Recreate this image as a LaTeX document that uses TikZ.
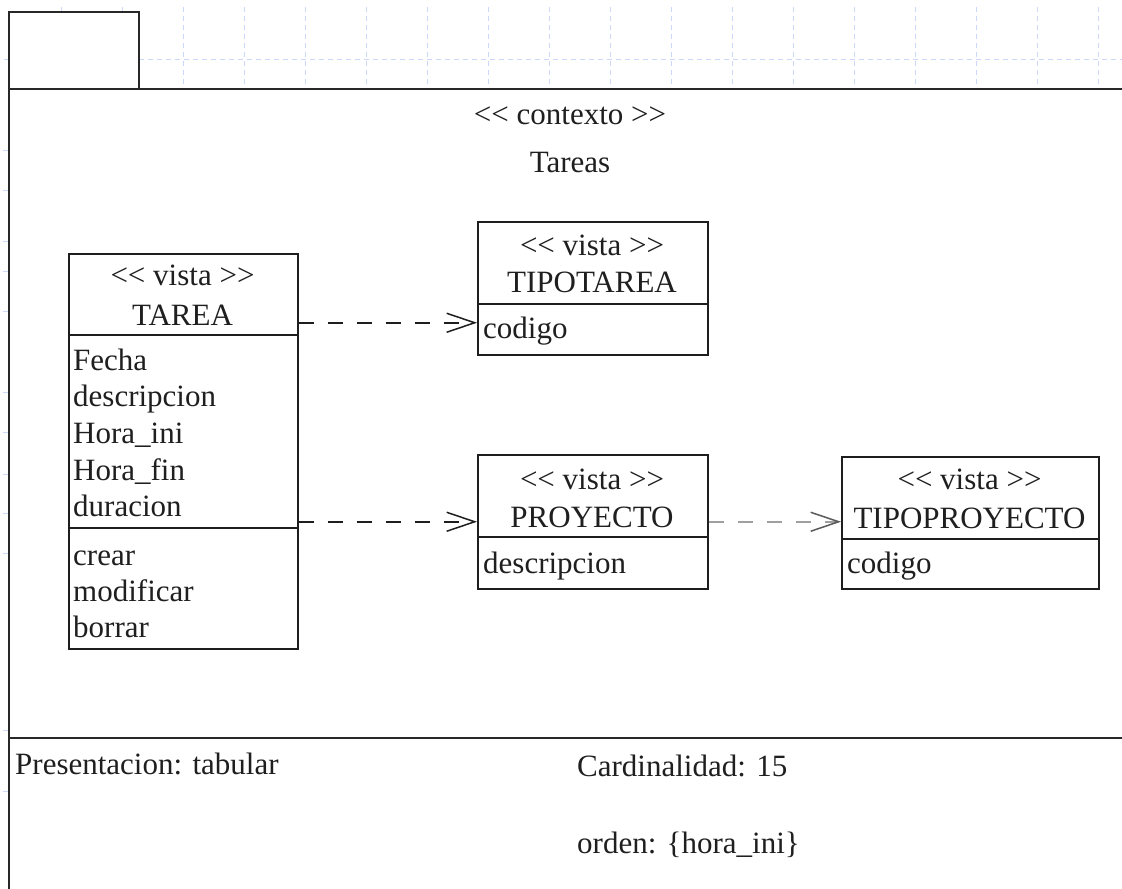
\documentclass[tikz,border=0pt]{standalone}
\usepackage{fontspec}
\newfontfamily\dfont{Liberation Serif}
\usetikzlibrary{arrows.meta}
\definecolor{gridblue}{RGB}{205,215,250}
\definecolor{framegray}{RGB}{40,40,40}
\definecolor{boxgray}{RGB}{30,30,30}
\definecolor{softgray}{RGB}{160,160,160}
\definecolor{tipgray}{RGB}{90,90,90}
\begin{document}
\begin{tikzpicture}[x=1pt,y=-1pt,
  every node/.style={font=\dfont\fontsize{31}{36}\selectfont, text=black!88},
  gridline/.style={draw=gridblue, line width=0.8pt, dash pattern=on 5pt off 4pt},
  frameline/.style={draw=framegray, line width=2pt},
  classbox/.style={draw=boxgray, line width=1.5pt, fill=white, rectangle, inner sep=0pt, anchor=north west},
  sepline/.style={draw=boxgray, line width=1.3pt},
  txt/.style={inner sep=0pt, anchor=base west},
  ctxt/.style={inner sep=0pt, anchor=base},
  dep/.style={draw=boxgray, line width=1.5pt, dash pattern=on 15pt off 14pt,
    -{Straight Barb[length=28pt,width=19pt,line width=1.5pt]}},
  softdep/.style={draw=softgray, line width=1.5pt, dash pattern=on 15pt off 14pt,
    -{Straight Barb[length=28pt,width=19pt,line width=1.5pt,color=tipgray]}},
]
\useasboundingbox (0,0) rectangle (1122,889);

% background drawing grid
\foreach \gx in {61,122,...,1098} \draw[gridline] (\gx,7) -- (\gx,89);
\draw[gridline] (4,59) -- (1122,59);
\foreach \gy in {150,190,241,271,311,392,432,474,513,553,730,791}
  \draw[draw=gridblue, line width=0.8pt] (3,\gy) -- (8,\gy);

% context frame with its tab
\draw[frameline] (9,889) -- (9,89) -- (1122,89);
\draw[frameline] (9,738) -- (1122,738);
\draw[frameline, fill=white] (9,12) rectangle (139,89);

\node[ctxt] (stereo) at (570,124) {<< contexto >>};
\node[ctxt] (ctxname) at (570,172) {Tareas};

% class TAREA
\node[classbox, minimum width=229pt, minimum height=395pt] (tarea) at (68,253) {};
\draw[sepline] (68,335) -- (297,335);
\draw[sepline] (68,528) -- (297,528);
\node[ctxt] (tarea-st) at (182.5,285) {<< vista >>};
\node[ctxt] (tarea-nm) at (182.5,325) {TAREA};
\node[txt] (tarea-a1) at (73,370) {Fecha};
\node[txt] (tarea-a2) at (73,406.5) {descripcion};
\node[txt] (tarea-a3) at (73,443) {Hora\_ini};
\node[txt] (tarea-a4) at (73,480) {Hora\_fin};
\node[txt] (tarea-a5) at (73,516) {duracion};
\node[txt] (tarea-o1) at (73,565) {crear};
\node[txt] (tarea-o2) at (73,601) {modificar};
\node[txt] (tarea-o3) at (73,637) {borrar};

% class TIPOTAREA
\node[classbox, minimum width=230pt, minimum height=133pt] (tipotarea) at (477,221) {};
\draw[sepline] (477,304) -- (707,304);
\node[ctxt] (tipotarea-st) at (592,255) {<< vista >>};
\node[ctxt] (tipotarea-nm) at (592,292) {TIPOTAREA};
\node[txt] (tipotarea-a1) at (483,338) {codigo};

% class PROYECTO
\node[classbox, minimum width=230pt, minimum height=134pt] (proyecto) at (477,454) {};
\draw[sepline] (477,537) -- (707,537);
\node[ctxt] (proyecto-st) at (592,489) {<< vista >>};
\node[ctxt] (proyecto-nm) at (592,527) {PROYECTO};
\node[txt] (proyecto-a1) at (483,573) {descripcion};

% class TIPOPROYECTO
\node[classbox, minimum width=257pt, minimum height=132pt] (tipoproyecto) at (841,456) {};
\draw[sepline] (841,539) -- (1098,539);
\node[ctxt] (tipoproyecto-st) at (969.5,489) {<< vista >>};
\node[ctxt] (tipoproyecto-nm) at (969.5,528) {TIPOPROYECTO};
\node[txt] (tipoproyecto-a1) at (847,573) {codigo};

% dependencies
\coordinate (tt-in) at ([yshift=-34.5pt]tipotarea.west);
\draw[dep] (tarea.east |- tt-in) -- (tt-in);
\draw[dep] (tarea.east |- proyecto.west) -- (proyecto.west);
\draw[softdep] (proyecto.east) -- (tipoproyecto.west |- proyecto.east);

% footer properties
\node[txt] (present) at (15,774) {Presentacion: tabular};
\node[txt] (cardinal) at (577,776) {Cardinalidad: 15};
\node[txt] (orden) at (577,853) {orden: \{hora\_ini\}};
\end{tikzpicture}
\end{document}
